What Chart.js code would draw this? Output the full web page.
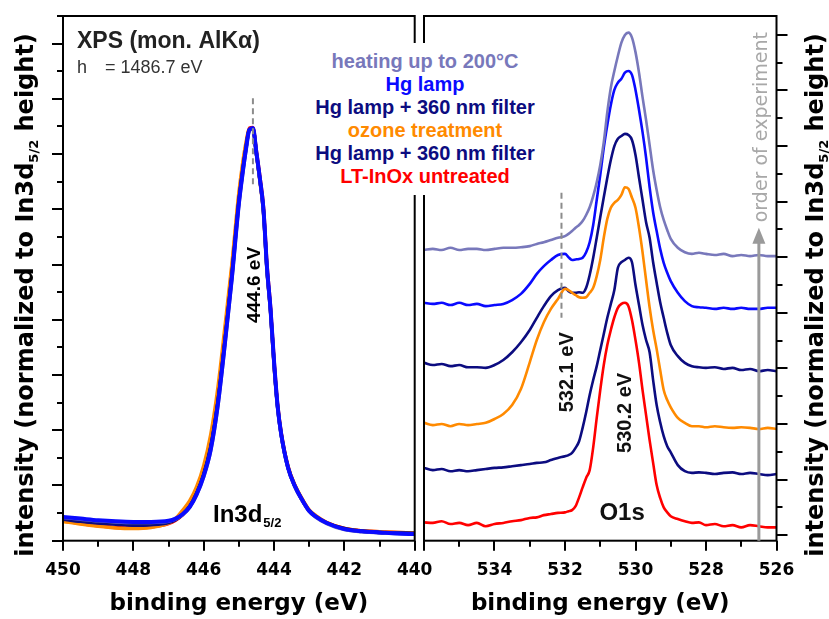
<!DOCTYPE html>
<html>
<head>
<meta charset="utf-8">
<title>XPS In3d and O1s</title>
<script src="https://cdn.jsdelivr.net/npm/chart.js@4.4.1/dist/chart.umd.min.js"></script>
<style>
  html, body { margin: 0; padding: 0; background: #fff; }
  #wrap { position: relative; width: 829px; height: 619px; overflow: hidden; background: #fff; }
  #cIn { position: absolute; left: 0; top: 0; }
  #cO  { position: absolute; left: 419px; top: 0; }
  #legend {
    position: absolute; left: 300px; top: 43px; width: 250px; padding: 7px 0;
    background: #fff; text-align: center; white-space: nowrap;
    font: bold 20px "Liberation Sans", Arial, sans-serif; line-height: 23px;
  }
</style>
</head>
<body>
<div id="wrap">
  <canvas id="cIn" width="445" height="619"></canvas>
  <canvas id="cO" width="410" height="619"></canvas>
  <div id="legend"></div>
</div>
<script>
// ---- series names and colours (legend order, top to bottom) ----
const seriesLabels = ['heating up to 200°C', 'Hg lamp', 'Hg lamp + 360 nm filter',
                      'ozone treatment', 'Hg lamp + 360 nm filter', 'LT-InOx untreated'];
const seriesColors = ['#7878bb', '#0a0aff', '#0c0c80', '#ff8a00', '#0c0c80', '#ff0000'];

// ---- In3d5/2 region: binding energy (eV) ----
const energyIn = [450.0, 449.5, 449.0, 448.5, 448.0, 447.5, 447.0,
  446.8, 446.6, 446.4, 446.2, 446.0, 445.8, 445.6, 445.4, 445.2, 445.0,
  444.9, 444.8, 444.7, 444.6, 444.5, 444.4, 444.3, 444.2, 444.1, 444.0, 443.9, 443.8,
  443.6, 443.4, 443.2, 443.0, 442.8, 442.5, 442.0, 441.5, 441.0, 440.5, 440.0];
const inHeating   = [0.42,0.39,0.36,0.34,0.33,0.33,0.35,0.39,0.47,0.60,0.83,1.16,1.63,2.42,3.52,4.72,6.08,6.60,7.06,7.43,7.46,7.01,6.53,5.97,4.92,4.18,3.22,2.43,1.93,1.31,0.97,0.73,0.53,0.42,0.31,0.20,0.16,0.14,0.13,0.12];
const inHgLamp    = [0.43,0.40,0.37,0.35,0.34,0.34,0.36,0.40,0.48,0.61,0.84,1.17,1.65,2.45,3.55,4.75,6.10,6.62,7.08,7.44,7.47,7.02,6.55,6.00,4.95,4.20,3.25,2.45,1.95,1.32,0.98,0.74,0.54,0.43,0.32,0.21,0.17,0.15,0.13,0.12];
const inHgFilterB = [0.40,0.36,0.33,0.31,0.29,0.30,0.34,0.39,0.48,0.62,0.86,1.20,1.70,2.50,3.60,4.80,6.15,6.66,7.10,7.45,7.46,7.00,6.52,5.96,4.90,4.16,3.20,2.42,1.93,1.31,0.97,0.73,0.54,0.43,0.32,0.21,0.17,0.15,0.14,0.13];
const inOzone     = [0.35,0.30,0.26,0.23,0.22,0.24,0.32,0.40,0.55,0.72,0.98,1.36,1.92,2.75,3.85,5.00,6.30,6.80,7.20,7.45,7.45,7.00,6.50,5.95,4.90,4.15,3.18,2.45,1.96,1.34,1.00,0.76,0.56,0.45,0.33,0.22,0.18,0.16,0.15,0.14];
const inHgFilterA = [0.39,0.35,0.32,0.30,0.28,0.29,0.33,0.38,0.47,0.61,0.85,1.19,1.68,2.48,3.58,4.78,6.12,6.64,7.09,7.44,7.46,7.01,6.53,5.98,4.92,4.18,3.22,2.44,1.94,1.32,0.98,0.74,0.54,0.43,0.32,0.22,0.17,0.15,0.14,0.13];
const inUntreated = [0.36,0.31,0.27,0.24,0.23,0.25,0.31,0.37,0.47,0.63,0.88,1.24,1.76,2.58,3.70,4.90,6.22,6.72,7.15,7.47,7.48,7.05,6.58,6.04,5.00,4.24,3.28,2.48,1.97,1.34,0.99,0.75,0.55,0.44,0.33,0.22,0.18,0.16,0.15,0.14];

// ---- O1s region (stacked spectra): binding energy (eV) ----
const energyO = [536.0, 535.75, 535.5, 535.25, 535.0, 534.75, 534.5, 534.25, 534.0,
  533.75, 533.5, 533.25, 533.0, 532.8, 532.6, 532.4, 532.2, 532.0,
  531.9, 531.8, 531.7, 531.6, 531.5, 531.4, 531.3, 531.2, 531.1, 531.0,
  530.9, 530.8, 530.7, 530.6, 530.5, 530.4, 530.3, 530.2, 530.1, 530.0,
  529.9, 529.8, 529.7, 529.6, 529.5, 529.4, 529.3, 529.2, 529.1, 529.0,
  528.8, 528.6, 528.4, 528.2, 528.0, 527.75, 527.5, 527.25, 527.0, 526.75, 526.5, 526.25, 526.0];
const oHeating   = [5.13,5.15,5.13,5.17,5.13,5.15,5.15,5.13,5.15,5.17,5.17,5.18,5.20,5.24,5.27,5.31,5.35,5.38,5.42,5.47,5.53,5.58,5.65,5.76,5.90,6.10,6.35,6.66,7.07,7.61,8.05,8.35,8.62,8.86,9.00,9.04,8.95,8.69,8.32,7.88,7.47,7.02,6.57,6.21,5.90,5.67,5.49,5.33,5.17,5.09,5.06,5.08,5.06,5.04,5.06,5.02,5.04,5.02,5.04,5.02,5.02];
const oHgLamp    = [4.18,4.16,4.18,4.14,4.18,4.14,4.16,4.12,4.14,4.16,4.23,4.34,4.52,4.70,4.84,4.95,5.04,5.06,5.00,4.95,4.96,4.97,4.99,5.09,5.27,5.58,6.03,6.48,6.97,7.38,7.74,8.01,8.14,8.21,8.32,8.35,8.28,8.01,7.65,7.25,6.79,6.26,5.81,5.47,5.15,4.90,4.72,4.57,4.36,4.21,4.12,4.10,4.09,4.07,4.09,4.07,4.09,4.07,4.07,4.09,4.09];
const oHgFilterB = [3.10,3.06,3.08,3.04,3.06,3.02,3.02,3.01,3.06,3.15,3.29,3.47,3.69,3.91,4.12,4.30,4.41,4.45,4.39,4.36,4.36,4.37,4.36,4.45,4.68,4.99,5.35,5.72,6.08,6.43,6.75,7.00,7.13,7.18,7.22,7.20,7.11,6.84,6.43,6.03,5.63,5.35,4.91,4.54,4.19,3.91,3.64,3.42,3.22,3.10,3.04,3.02,3.01,3.02,2.99,3.01,2.97,2.99,2.95,2.97,2.95];
const oOzone     = [2.02,1.98,2.00,1.96,2.00,1.98,2.00,2.02,2.09,2.18,2.34,2.63,3.11,3.51,3.83,4.07,4.25,4.43,4.41,4.36,4.32,4.28,4.27,4.28,4.36,4.45,4.66,4.95,5.35,5.69,5.89,5.98,6.03,6.12,6.26,6.23,6.07,5.89,5.53,5.09,4.59,4.10,3.69,3.35,2.97,2.61,2.43,2.30,2.11,2.02,1.96,1.96,1.94,1.96,1.94,1.93,1.94,1.93,1.91,1.93,1.91];
const oHgFilterA = [1.21,1.17,1.19,1.15,1.17,1.15,1.17,1.19,1.21,1.22,1.24,1.26,1.28,1.30,1.31,1.35,1.39,1.42,1.44,1.48,1.57,1.69,1.93,2.21,2.52,2.79,3.04,3.33,3.62,3.91,4.16,4.41,4.81,4.91,4.95,4.99,4.91,4.50,4.14,3.78,3.51,3.29,2.79,2.34,2.03,1.78,1.60,1.49,1.26,1.15,1.12,1.13,1.12,1.10,1.12,1.13,1.10,1.12,1.10,1.08,1.10];
const oUntreated = [0.23,0.22,0.25,0.20,0.22,0.18,0.22,0.16,0.20,0.22,0.25,0.27,0.31,0.32,0.36,0.38,0.40,0.41,0.43,0.45,0.52,0.68,0.86,1.03,1.17,1.58,2.11,2.61,3.06,3.42,3.69,3.92,4.09,4.16,4.18,4.12,3.87,3.51,3.10,2.61,2.16,1.71,1.30,0.90,0.67,0.50,0.41,0.34,0.29,0.25,0.22,0.23,0.18,0.20,0.16,0.18,0.14,0.18,0.16,0.14,0.14];

// ---- axis tick labels ----
const xLabelsIn = [450, 448, 446, 444, 442, 440];
const xLabelsO  = [534, 532, 530, 528, 526];

// ---- fonts ----
const AXIS_FAMILY = '"DejaVu Sans", sans-serif';
const NOTE_FAMILY = '"Liberation Sans", Arial, sans-serif';

const pts = (xs, ys) => xs.map((x, i) => ({ x: x, y: ys[i] }));

// legend block shared by both panels
const legendBox = document.getElementById('legend');
seriesLabels.forEach((t, i) => {
  const d = document.createElement('div');
  d.textContent = t;
  d.style.color = seriesColors[i];
  legendBox.appendChild(d);
});

// vertical (bottom-to-top) text made of several runs
function vText(ctx, parts, x, y, color) {
  ctx.save();
  ctx.translate(x, y);
  ctx.rotate(-Math.PI / 2);
  ctx.fillStyle = color;
  ctx.textAlign = 'left';
  ctx.textBaseline = 'alphabetic';
  let w = 0;
  parts.forEach(p => { ctx.font = p.font; w += ctx.measureText(p.t).width; });
  let cx = -w / 2;
  parts.forEach(p => {
    ctx.font = p.font;
    ctx.fillText(p.t, cx, p.dy || 0);
    cx += ctx.measureText(p.t).width;
  });
  ctx.restore();
}

function yTitle(ctx, x, y) {
  vText(ctx, [
    { t: 'intensity (normalized to In3d', font: 'bold 24px ' + AXIS_FAMILY },
    { t: '5/2', font: 'bold 13px ' + AXIS_FAMILY, dy: 5 },
    { t: ' height)', font: 'bold 24px ' + AXIS_FAMILY }
  ], x, y, '#000');
}

// frame around the plot area plus major/minor tick marks
function drawFrame(chart, o) {
  const { ctx, chartArea: a, scales: { x, y } } = chart;
  ctx.save();
  ctx.strokeStyle = '#000';
  ctx.lineWidth = 2;
  ctx.lineCap = 'square';
  ctx.strokeRect(a.left, a.top, a.right - a.left, a.bottom - a.top);
  ctx.lineCap = 'butt';
  ctx.beginPath();
  for (let v = x.min; v <= x.max + 1e-9; v += 1) {
    const px = Math.round(x.getPixelForValue(v));
    const len = (Math.round(v) % 2 === 0) ? 10 : 6;
    ctx.moveTo(px, a.bottom);
    ctx.lineTo(px, a.bottom + len);
  }
  for (let v = 0; v <= o.yTop + 1e-9; v += 0.5) {
    const py = Math.round(y.getPixelForValue(v));
    const len = Number.isInteger(v) ? 11 : 6;
    if (o.side === 'left') { ctx.moveTo(a.left, py); ctx.lineTo(a.left - len, py); }
    else { ctx.moveTo(a.right, py); ctx.lineTo(a.right + len, py); }
  }
  ctx.stroke();
  ctx.restore();
}

function dashed(ctx, x, y0, y1) {
  ctx.save();
  ctx.strokeStyle = '#8c8c8c';
  ctx.lineWidth = 2;
  ctx.setLineDash([6, 4]);
  ctx.beginPath();
  ctx.moveTo(x, y0);
  ctx.lineTo(x, y1);
  ctx.stroke();
  ctx.restore();
}

function xScaleOpts(min, max, labels) {
  return {
    type: 'linear', reverse: true, min: min, max: max,
    afterFit: s => { s.height = 78.3; s.paddingLeft = 0; s.paddingRight = 0; },
    ticks: {
      stepSize: 1, autoSkip: false, maxRotation: 0, padding: 20, color: '#000',
      font: { family: AXIS_FAMILY, weight: 'bold', size: 17 },
      callback: v => labels.includes(v) ? String(v) : ''
    },
    grid: { display: false, drawTicks: false },
    border: { display: false },
    title: {
      display: true, text: 'binding energy (eV)', color: '#000',
      font: { family: AXIS_FAMILY, weight: 'bold', size: 23 },
      padding: { top: 0, bottom: 1 }
    }
  };
}

function yScaleOpts(pos, min, max, width) {
  return {
    position: pos, min: min, max: max,
    afterFit: s => { s.width = width; s.paddingTop = 0; s.paddingBottom = 0; },
    ticks: { display: false },
    grid: { display: false, drawTicks: false },
    border: { display: false }
  };
}

const lineDefaults = { pointRadius: 0, fill: false, cubicInterpolationMode: 'monotone' };

// ---------------- In3d5/2 panel ----------------
const inSeries = [inHeating, inHgLamp, inHgFilterB, inOzone, inHgFilterA, inUntreated];
const inDrawOrder = [1, 0, 2, 4, 3, 5]; // Hg lamp on top, ozone underneath
const inDatasets = inSeries.map((s, i) => Object.assign({}, lineDefaults, {
  label: seriesLabels[i],
  data: pts(energyIn, s),
  borderColor: seriesColors[i],
  borderWidth: i === 1 ? 4 : 3.5,
  order: inDrawOrder[i]
}));

new Chart(document.getElementById('cIn'), {
  type: 'line',
  data: { datasets: inDatasets },
  options: {
    responsive: false, animation: false, events: [],
    layout: { padding: { top: 16, right: 30.3, left: 0, bottom: 0 } },
    plugins: { legend: { display: false }, tooltip: { enabled: false } },
    scales: {
      x: xScaleOpts(440, 450, xLabelsIn),
      y: yScaleOpts('left', 0, 9.5, 63)
    }
  },
  plugins: [{
    id: 'inFrame',
    afterDraw(chart) {
      drawFrame(chart, { side: 'left', yTop: 9.5 });
      const { ctx, scales: { x, y }, chartArea: a } = chart;
      yTitle(ctx, 33, 295);
      // excitation source
      ctx.save();
      ctx.fillStyle = '#222';
      ctx.textAlign = 'left';
      ctx.textBaseline = 'alphabetic';
      ctx.font = 'bold 23px ' + NOTE_FAMILY;
      ctx.fillText('XPS (mon. AlK\u03b1)', a.left + 14, 48);
      ctx.font = '18px ' + NOTE_FAMILY;
      ctx.fillStyle = '#333';
      ctx.fillText('h', a.left + 14, 73);
      ctx.fillText('= 1486.7 eV', a.left + 42, 73);
      ctx.restore();
      // peak position
      const xp = x.getPixelForValue(444.6);
      dashed(ctx, xp, y.getPixelForValue(8.01), y.getPixelForValue(6.42));
      vText(ctx, [{ t: '444.6 eV', font: 'bold 19px ' + NOTE_FAMILY }], xp + 7, y.getPixelForValue(4.63), '#000');
      // core level name
      ctx.save();
      ctx.fillStyle = '#000';
      ctx.textBaseline = 'alphabetic';
      ctx.textAlign = 'left';
      const bx = x.getPixelForValue(445.735), by = y.getPixelForValue(0.34);
      ctx.font = 'bold 24px ' + NOTE_FAMILY;
      ctx.fillText('In3d', bx, by);
      const w = ctx.measureText('In3d').width;
      ctx.font = 'bold 13px ' + NOTE_FAMILY;
      ctx.fillText('5/2', bx + w + 1, by + 5);
      ctx.restore();
    }
  }]
});

// ---------------- O1s panel ----------------
const oSeries = [oHeating, oHgLamp, oHgFilterB, oOzone, oHgFilterA, oUntreated];
const oDatasets = oSeries.map((s, i) => Object.assign({}, lineDefaults, {
  label: seriesLabels[i],
  data: pts(energyO, s),
  borderColor: seriesColors[i],
  borderWidth: 2.6,
  order: i === 3 ? 0 : 1
}));

new Chart(document.getElementById('cO'), {
  type: 'line',
  data: { datasets: oDatasets },
  options: {
    responsive: false, animation: false, events: [],
    layout: { padding: { top: 16, right: 0, left: 5, bottom: 0 } },
    plugins: { legend: { display: false }, tooltip: { enabled: false } },
    scales: {
      x: xScaleOpts(526, 536, xLabelsO),
      y: yScaleOpts('right', -0.1, 9.34, 52.5)
    }
  },
  plugins: [{
    id: 'oFrame',
    afterDraw(chart) {
      drawFrame(chart, { side: 'right', yTop: 9.0 });
      const { ctx, scales: { x, y } } = chart;
      yTitle(ctx, 404, 295);
      // experiment order arrow
      const ax = x.getPixelForValue(526.5);
      const yTip = y.getPixelForValue(5.53);
      ctx.save();
      ctx.strokeStyle = '#9a9a9a';
      ctx.fillStyle = '#9a9a9a';
      ctx.lineWidth = 3;
      ctx.beginPath();
      ctx.moveTo(ax, y.getPixelForValue(-0.1));
      ctx.lineTo(ax, yTip + 14);
      ctx.stroke();
      ctx.beginPath();
      ctx.moveTo(ax, yTip);
      ctx.lineTo(ax - 6.5, yTip + 16);
      ctx.lineTo(ax + 6.5, yTip + 16);
      ctx.closePath();
      ctx.fill();
      ctx.restore();
      vText(ctx, [{ t: 'order of experiment', font: '19px ' + AXIS_FAMILY }],
            x.getPixelForValue(526.28), y.getPixelForValue(7.34), '#a8a8a8');
      // peak positions
      dashed(ctx, x.getPixelForValue(532.1), y.getPixelForValue(6.16), y.getPixelForValue(3.91));
      vText(ctx, [{ t: '532.1 eV', font: 'bold 20px ' + NOTE_FAMILY }],
            x.getPixelForValue(531.77), y.getPixelForValue(2.93), '#111');
      vText(ctx, [{ t: '530.2 eV', font: 'bold 20px ' + NOTE_FAMILY }],
            x.getPixelForValue(530.12), y.getPixelForValue(2.20), '#111');
      ctx.save();
      ctx.fillStyle = '#111';
      ctx.textAlign = 'center';
      ctx.textBaseline = 'alphabetic';
      ctx.font = 'bold 24px ' + NOTE_FAMILY;
      ctx.fillText('O1s', x.getPixelForValue(530.38), y.getPixelForValue(0.27));
      ctx.restore();
    }
  }]
});
</script>
</body>
</html>
